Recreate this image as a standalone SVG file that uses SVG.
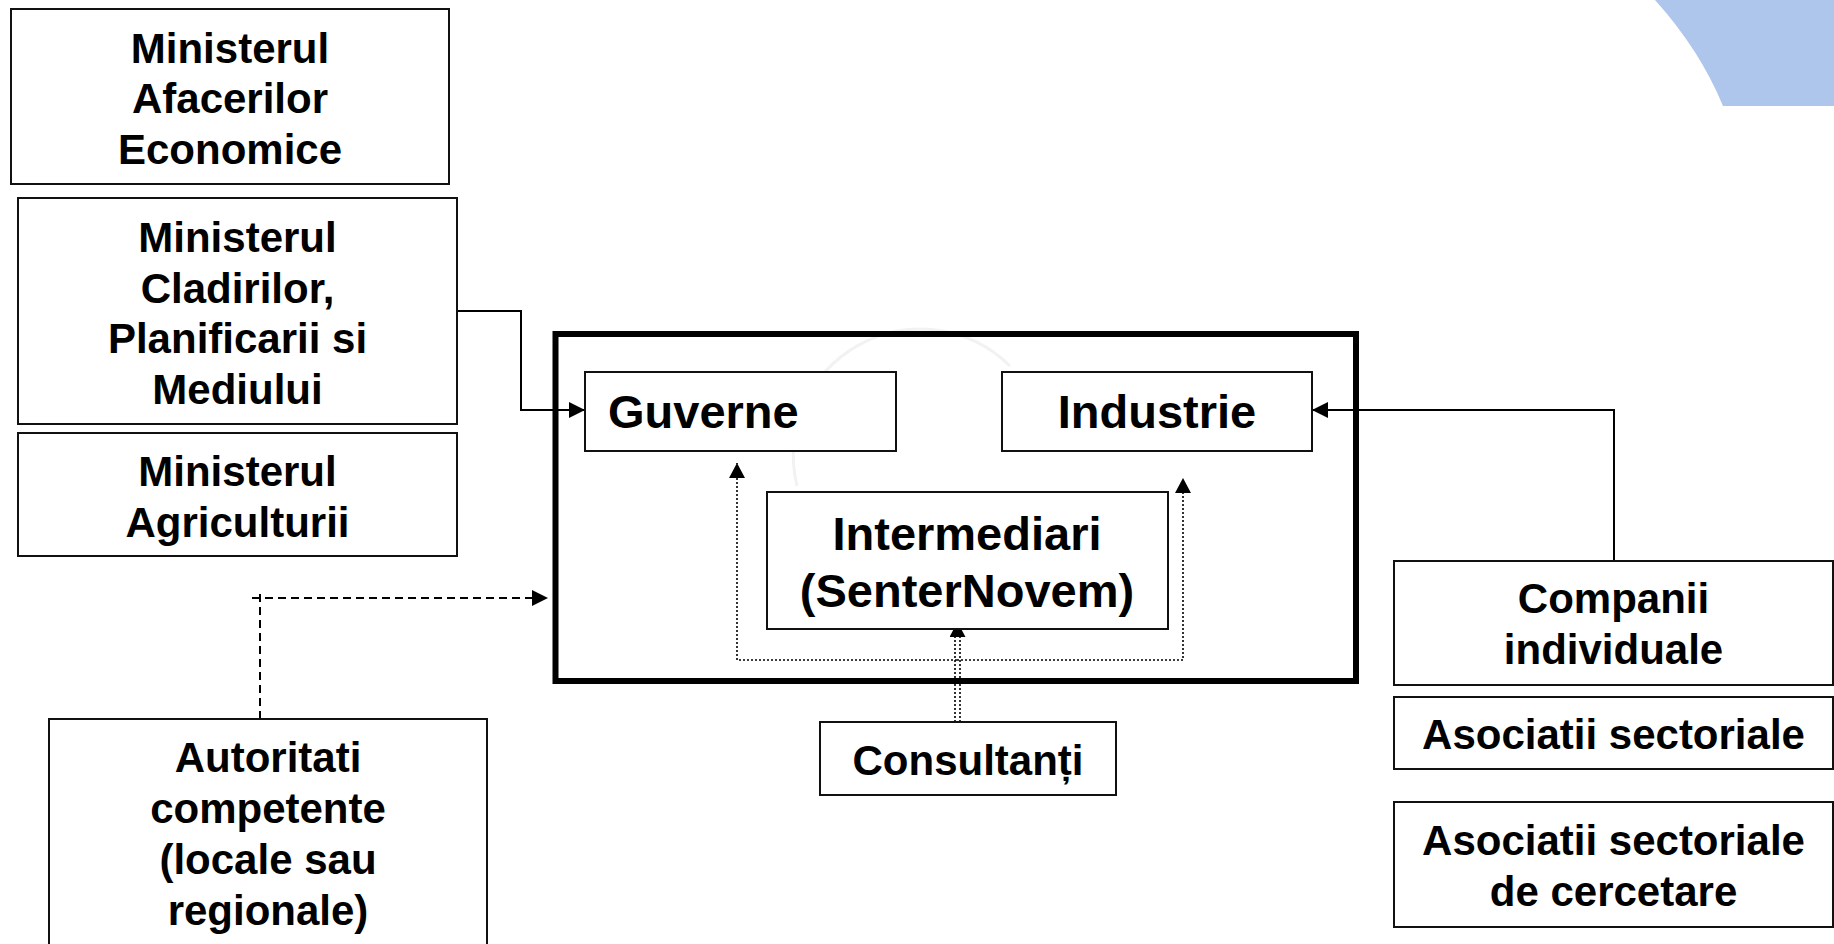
<svg xmlns="http://www.w3.org/2000/svg" width="1834" height="944" viewBox="0 0 1834 944">
<style>
.box{fill:#fff;stroke:#111;stroke-width:2}
.big{fill:none;stroke:#000;stroke-width:6}
.t{font-family:"Liberation Sans",Arial,sans-serif;font-weight:bold;fill:#000;text-anchor:middle}
.s42{font-size:42px}
.s47{font-size:47px}
.solid{fill:none;stroke:#000;stroke-width:2}
.dash{fill:none;stroke:#000;stroke-width:2;stroke-dasharray:8 5}
.dot{fill:none;stroke:#000;stroke-width:1.6;stroke-dasharray:2 2}
</style>
<defs>
<marker id="arr" markerUnits="userSpaceOnUse" markerWidth="16" markerHeight="16" refX="16" refY="8" orient="auto" viewBox="0 0 16 16">
<path d="M0,0 L16,8 L0,16 Z" fill="#000"/>
</marker>
<marker id="arrs" markerUnits="userSpaceOnUse" markerWidth="15" markerHeight="16" refX="15" refY="8" orient="auto" viewBox="0 0 15 16">
<path d="M0,0 L15,8 L0,16 Z" fill="#000"/>
</marker>
</defs>
<rect width="1834" height="944" fill="#fff"/>
<path d="M1655,0 Q1700,50 1723,106 L1834,106 L1834,0 Z" fill="#aec6ec"/>
<path d="M797,486 A127,127 0 0 1 1010,366" fill="none" stroke="#f2f2f2" stroke-width="3"/>

<g id="connectors">
<path class="solid" d="M457,311 H521 V410 H585" marker-end="url(#arr)"/>
<path class="solid" d="M1614,561 V410 H1312" marker-end="url(#arr)"/>
<path class="dash" d="M260,719 V590"/>
<path class="dash" d="M252,598 H548" marker-end="url(#arr)"/>
<path class="dot" d="M957,660 H737 V463" marker-end="url(#arrs)"/>
<path class="dot" d="M957,660 H1183 V478" marker-end="url(#arrs)"/>
<path class="dot" d="M955,722 V637"/>
<path class="dot" d="M960,722 V637"/>
<path d="M957.5,640 V622" fill="none" stroke="none" marker-end="url(#arrs)"/>
</g>

<g id="big-frame">
<rect class="big" x="555.5" y="334" width="800.5" height="347"/>
</g>

<g id="min-afaceri">
<rect class="box" x="11" y="9" width="438" height="175"/>
<text class="t s42" x="230" y="62.5">Ministerul</text>
<text class="t s42" x="230" y="113">Afacerilor</text>
<text class="t s42" x="230" y="164">Economice</text>
</g>

<g id="min-cladiri">
<rect class="box" x="18" y="198" width="439" height="226"/>
<text class="t s42" x="237.5" y="252">Ministerul</text>
<text class="t s42" x="237.5" y="302.5">Cladirilor,</text>
<text class="t s42" x="237.5" y="353">Planificarii si</text>
<text class="t s42" x="237.5" y="404">Mediului</text>
</g>

<g id="min-agri">
<rect class="box" x="18" y="433" width="439" height="123"/>
<text class="t s42" x="237.5" y="486">Ministerul</text>
<text class="t s42" x="237.5" y="536.5">Agriculturii</text>
</g>

<g id="autoritati">
<rect class="box" x="49" y="719" width="438" height="240"/>
<text class="t s42" x="268" y="772">Autoritati</text>
<text class="t s42" x="268" y="823">competente</text>
<text class="t s42" x="268" y="874">(locale sau</text>
<text class="t s42" x="268" y="925">regionale)</text>
</g>

<g id="guverne">
<rect class="box" x="585" y="372" width="311" height="79"/>
<text class="t s47" x="608" y="428" style="text-anchor:start">Guverne</text>
</g>

<g id="industrie">
<rect class="box" x="1002" y="372" width="310" height="79"/>
<text class="t s47" x="1157" y="428">Industrie</text>
</g>

<g id="intermediari">
<rect class="box" x="767" y="492" width="401" height="137"/>
<text class="t s47" x="967" y="550">Intermediari</text>
<text class="t s47" x="967" y="607">(SenterNovem)</text>
</g>

<g id="consultanti">
<rect class="box" x="820" y="722" width="296" height="73"/>
<text class="t s42" x="968" y="775">Consultanți</text>
</g>

<g id="companii">
<rect class="box" x="1394" y="561" width="439" height="124"/>
<text class="t s42" x="1613.5" y="613">Companii</text>
<text class="t s42" x="1613.5" y="664">individuale</text>
</g>

<g id="asoc-sect">
<rect class="box" x="1394" y="697" width="439" height="72"/>
<text class="t s42" x="1613.5" y="749">Asociatii sectoriale</text>
</g>

<g id="asoc-cercetare">
<rect class="box" x="1394" y="802" width="439" height="125"/>
<text class="t s42" x="1613.5" y="855">Asociatii sectoriale</text>
<text class="t s42" x="1613.5" y="906">de cercetare</text>
</g>
</svg>
